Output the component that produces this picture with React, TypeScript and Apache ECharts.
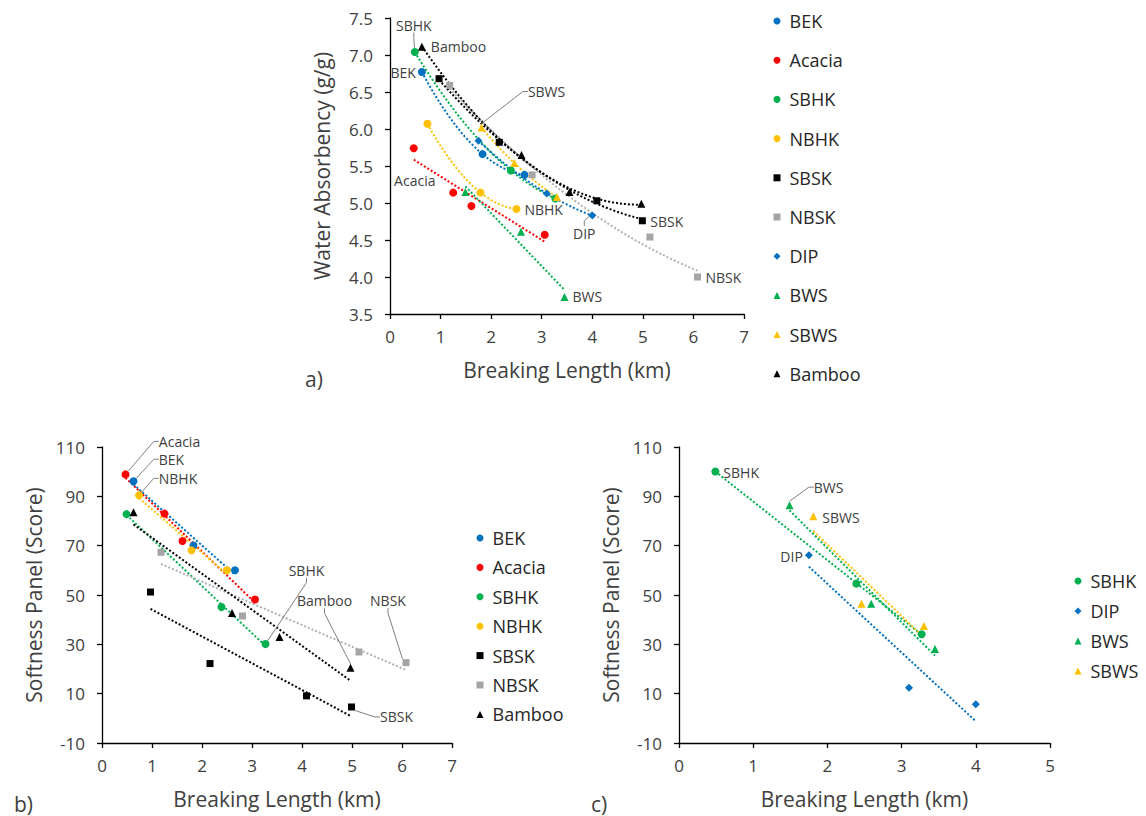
import React, { useEffect, useRef } from "react";
import * as echarts from "echarts";

const FONT = '"Open Sans", "Noto Sans", "DejaVu Sans", sans-serif';
const AXIS_TEXT = "#404040";
const LEGEND_TEXT = "#262626";

// ---- breaking length (km) of each material ----
const bekLen = [0.63, 1.83, 2.66];
const acaciaLen = [0.47, 1.25, 1.61, 3.06];
const sbhkLen = [0.49, 2.39, 3.27];
const nbhkLen = [0.74, 1.79, 2.5];
const sbskLen = [0.97, 2.16, 4.09, 4.99];
const nbskLen = [1.18, 2.81, 5.14, 6.08];
const dipLen = [1.75, 3.1, 4.0];
const bwsLen = [1.49, 2.59, 3.45];
const sbwsLen = [1.81, 2.46, 3.3];
const bambooLen = [0.63, 2.6, 3.55, 4.97];

// ---- a) water absorbency (g/g) ----
const bekWA = [6.77, 5.66, 5.38];
const acaciaWA = [5.74, 5.14, 4.96, 4.57];
const sbhkWA = [7.04, 5.44, 5.06];
const nbhkWA = [6.07, 5.14, 4.92];
const sbskWA = [6.68, 5.82, 5.03, 4.76];
const nbskWA = [6.59, 5.38, 4.54, 4.0];
const dipWA = [5.84, 5.13, 4.83];
const bwsWA = [5.15, 4.61, 3.73];
const sbwsWA = [6.02, 5.54, 5.08];
const bambooWA = [7.11, 5.65, 5.15, 4.99];

// ---- b) softness panel (score) ----
const bekSoftB = [96.1, 70.1, 60.0];
const acaciaSoftB = [98.9, 83.0, 71.9, 48.2];
const sbhkSoftB = [82.8, 45.1, 30.1];
const nbhkSoftB = [90.4, 68.1, 60.0];
const sbskSoftB = [51.2, 22.2, 9.1, 4.6];
const nbskSoftB = [67.3, 41.5, 26.9, 22.6];
const bambooSoftB = [83.5, 42.7, 33.0, 20.5];

// ---- c) softness panel (score) ----
const sbhkSoftC = [100.1, 54.6, 34.1];
const dipSoftC = [66.1, 12.4, 5.7];
const bwsSoftC = [86.4, 46.5, 28.1];
const sbwsSoftC = [81.9, 46.5, 37.4];

// ---- tick labels ----
const absTicks = [3.5, 4.0, 4.5, 5.0, 5.5, 6.0, 6.5, 7.0, 7.5];
const softTicks = [-10, 10, 30, 50, 70, 90, 110];
const lenTicksAB = [0, 1, 2, 3, 4, 5, 6, 7];
const lenTicksC = [0, 1, 2, 3, 4, 5];

const legendA = ["BEK", "Acacia", "SBHK", "NBHK", "SBSK", "NBSK", "DIP", "BWS", "SBWS", "Bamboo"];
const legendB = ["BEK", "Acacia", "SBHK", "NBHK", "SBSK", "NBSK", "Bamboo"];
const legendC = ["SBHK", "DIP", "BWS", "SBWS"];

const MATS: Record<string, { color: string; trend: string; symbol: string; size: number }> = {
  BEK: { color: "#0070C0", trend: "#0070C0", symbol: "circle", size: 8 },
  Acacia: { color: "#FF0000", trend: "#FF0000", symbol: "circle", size: 8 },
  SBHK: { color: "#00B050", trend: "#00B050", symbol: "circle", size: 8 },
  NBHK: { color: "#FFC000", trend: "#FFC000", symbol: "circle", size: 8 },
  SBSK: { color: "#000000", trend: "#000000", symbol: "rect", size: 7 },
  NBSK: { color: "#A5A5A5", trend: "#B0B0B0", symbol: "rect", size: 7 },
  DIP: { color: "#0070C0", trend: "#0070C0", symbol: "diamond", size: 8 },
  BWS: { color: "#00B050", trend: "#00B050", symbol: "triangle", size: 8 },
  SBWS: { color: "#FFC000", trend: "#FFC000", symbol: "triangle", size: 8 },
  Bamboo: { color: "#000000", trend: "#000000", symbol: "triangle", size: 8 },
};

type Spec = { mat: string; x: number[]; y: number[]; fit: number };
type Ann = { mat: string; i: number; text: string; dx: number; dy: number; align: string; line?: boolean };

const panels: { specs: Spec[]; labels: Ann[] }[] = [
  {
    specs: [
      { mat: "BEK", x: bekLen, y: bekWA, fit: 2 },
      { mat: "Acacia", x: acaciaLen, y: acaciaWA, fit: 1 },
      { mat: "SBHK", x: sbhkLen, y: sbhkWA, fit: 2 },
      { mat: "NBHK", x: nbhkLen, y: nbhkWA, fit: 2 },
      { mat: "SBSK", x: sbskLen, y: sbskWA, fit: 2 },
      { mat: "NBSK", x: nbskLen, y: nbskWA, fit: 2 },
      { mat: "DIP", x: dipLen, y: dipWA, fit: 2 },
      { mat: "BWS", x: bwsLen, y: bwsWA, fit: 1 },
      { mat: "SBWS", x: sbwsLen, y: sbwsWA, fit: 2 },
      { mat: "Bamboo", x: bambooLen, y: bambooWA, fit: 2 },
    ],
    labels: [
      { mat: "SBHK", i: 0, text: "SBHK", dx: -1, dy: -27, align: "center", line: true },
      { mat: "Bamboo", i: 0, text: "Bamboo", dx: 9, dy: 0, align: "left" },
      { mat: "BEK", i: 0, text: "BEK", dx: -6, dy: 0, align: "right" },
      { mat: "SBWS", i: 0, text: "SBWS", dx: 65, dy: -36, align: "center", line: true },
      { mat: "Acacia", i: 0, text: "Acacia", dx: 1, dy: 32, align: "center" },
      { mat: "NBHK", i: 2, text: "NBHK", dx: 8, dy: 1, align: "left" },
      { mat: "DIP", i: 2, text: "DIP", dx: -8, dy: 18, align: "center", line: true },
      { mat: "SBSK", i: 3, text: "SBSK", dx: 8, dy: 1, align: "left" },
      { mat: "NBSK", i: 3, text: "NBSK", dx: 8, dy: 0, align: "left" },
      { mat: "BWS", i: 2, text: "BWS", dx: 8, dy: 0, align: "left" },
    ],
  },
  {
    specs: [
      { mat: "BEK", x: bekLen, y: bekSoftB, fit: 1 },
      { mat: "Acacia", x: acaciaLen, y: acaciaSoftB, fit: 1 },
      { mat: "SBHK", x: sbhkLen, y: sbhkSoftB, fit: 1 },
      { mat: "NBHK", x: nbhkLen, y: nbhkSoftB, fit: 1 },
      { mat: "SBSK", x: sbskLen, y: sbskSoftB, fit: 1 },
      { mat: "NBSK", x: nbskLen, y: nbskSoftB, fit: 1 },
      { mat: "Bamboo", x: bambooLen, y: bambooSoftB, fit: 1 },
    ],
    labels: [
      { mat: "Acacia", i: 0, text: "Acacia", dx: 54, dy: -33, align: "center", line: true },
      { mat: "BEK", i: 0, text: "BEK", dx: 38, dy: -22, align: "center", line: true },
      { mat: "NBHK", i: 0, text: "NBHK", dx: 39, dy: -17, align: "center", line: true },
      { mat: "SBHK", i: 2, text: "SBHK", dx: 41, dy: -74, align: "center", line: true },
      { mat: "Bamboo", i: 3, text: "Bamboo", dx: -26, dy: -67, align: "center", line: true },
      { mat: "NBSK", i: 3, text: "NBSK", dx: -18, dy: -62, align: "center", line: true },
      { mat: "SBSK", i: 3, text: "SBSK", dx: 45, dy: 10, align: "center", line: true },
    ],
  },
  {
    specs: [
      { mat: "SBHK", x: sbhkLen, y: sbhkSoftC, fit: 1 },
      { mat: "DIP", x: dipLen, y: dipSoftC, fit: 1 },
      { mat: "BWS", x: bwsLen, y: bwsSoftC, fit: 1 },
      { mat: "SBWS", x: sbwsLen, y: sbwsSoftC, fit: 1 },
    ],
    labels: [
      { mat: "SBHK", i: 0, text: "SBHK", dx: 8, dy: 1, align: "left" },
      { mat: "BWS", i: 0, text: "BWS", dx: 39, dy: -18, align: "center", line: true },
      { mat: "SBWS", i: 0, text: "SBWS", dx: 9, dy: 1, align: "left" },
      { mat: "DIP", i: 0, text: "DIP", dx: -6, dy: 1, align: "right" },
    ],
  },
];

// least-squares polynomial fit (Excel-style trendline)
function fitPoly(xs: number[], ys: number[], deg: number): number[] {
  const n = deg + 1;
  const A: number[][] = Array.from({ length: n }, () => new Array(n + 1).fill(0));
  for (let k = 0; k < xs.length; k++) {
    for (let i = 0; i < n; i++) {
      for (let j = 0; j < n; j++) A[i][j] += Math.pow(xs[k], i + j);
      A[i][n] += ys[k] * Math.pow(xs[k], i);
    }
  }
  for (let c = 0; c < n; c++) {
    let p = c;
    for (let r = c + 1; r < n; r++) if (Math.abs(A[r][c]) > Math.abs(A[p][c])) p = r;
    [A[c], A[p]] = [A[p], A[c]];
    for (let r = 0; r < n; r++) {
      if (r === c) continue;
      const f = A[r][c] / A[c][c];
      for (let k = c; k <= n; k++) A[r][k] -= f * A[c][k];
    }
  }
  return A.map((row, i) => row[n] / row[i]);
}
const evalPoly = (c: number[], x: number) => c.reduce((s, a, i) => s + a * Math.pow(x, i), 0);

function buildSeries() {
  const series: any[] = [];
  panels.forEach((p, pi) => {
    p.specs.forEach((s) => {
      const m = MATS[s.mat];
      const coeffs = fitPoly(s.x, s.y, s.fit);
      const lo = Math.min(...s.x);
      const hi = Math.max(...s.x);
      const steps = 60;
      const trend: number[][] = [];
      for (let k = 0; k <= steps; k++) {
        const xv = lo + ((hi - lo) * k) / steps;
        trend.push([xv, evalPoly(coeffs, xv)]);
      }
      series.push({
        type: "line",
        name: `${s.mat} trend ${pi}`,
        xAxisIndex: pi,
        yAxisIndex: pi,
        data: trend,
        showSymbol: false,
        symbol: "none",
        silent: true,
        z: 1,
        lineStyle: { color: m.trend, width: 2, type: [2, 2] },
      });
    });
    p.specs.forEach((s) => {
      const m = MATS[s.mat];
      const anns = p.labels.filter((a) => a.mat === s.mat);
      const data = s.x.map((xv, i) => {
        const a = anns.find((q) => q.i === i);
        const item: any = { value: [xv, s.y[i]] };
        if (a) {
          item.label = { show: true, formatter: a.text };
          item.labelLine = { show: !!a.line };
        }
        return item;
      });
      series.push({
        type: "scatter",
        name: s.mat,
        xAxisIndex: pi,
        yAxisIndex: pi,
        data,
        symbol: m.symbol,
        symbolSize: m.size,
        itemStyle: { color: m.color, opacity: 1 },
        z: 3,
        label: { show: false, fontSize: 14, lineHeight: 15, fontFamily: FONT, color: AXIS_TEXT },
        labelLine: { show: false, length2: 5, lineStyle: { color: "#808080", width: 1 } },
        labelLayout: (params: any) => {
          const a = anns.find((q) => q.i === params.dataIndex);
          if (!a) return {};
          const cx = params.rect.x + params.rect.width / 2;
          const cy = params.rect.y + params.rect.height / 2;
          return { x: cx + a.dx, y: cy + a.dy, align: a.align, verticalAlign: "middle" };
        },
        emphasis: { disabled: true },
      });
    });
  });
  return series;
}

const axisLine = { show: true, onZero: false, lineStyle: { color: "#000", width: 1.3 } };
const axisTick = { show: true, length: 5, lineStyle: { color: "#000", width: 1.3 } };
const labelStyle = { fontSize: 17, fontFamily: FONT, color: AXIS_TEXT };
const nameStyle = { fontSize: 21, fontFamily: FONT, color: AXIS_TEXT };

function xAxis(gridIndex: number, ticks: number[]) {
  return {
    type: "value",
    gridIndex,
    min: ticks[0],
    max: ticks[ticks.length - 1],
    interval: 1,
    name: "Breaking Length (km)",
    nameLocation: "middle",
    nameGap: 45,
    nameTextStyle: nameStyle,
    axisLine,
    axisTick,
    axisLabel: { ...labelStyle, margin: 14 },
    splitLine: { show: false },
  };
}

function legend(names: string[], markerCenterX: number, firstCenterY: number, step: number) {
  const size = 7;
  const lineH = 20;
  return {
    data: names.map((n) => ({ name: n, icon: MATS[n].symbol })),
    orient: "vertical",
    left: markerCenterX - size / 2,
    top: firstCenterY - lineH / 2,
    padding: 0,
    itemWidth: size,
    itemHeight: size,
    itemGap: step - lineH,
    selectedMode: false,
    textStyle: {
      fontSize: 18,
      fontFamily: FONT,
      color: LEGEND_TEXT,
      lineHeight: lineH,
      padding: [0, 0, 0, 4],
    },
  };
}

export default function App() {
  const ref = useRef<HTMLDivElement>(null);
  useEffect(() => {
    if (!ref.current) return;
    const chart = echarts.init(ref.current, undefined, { renderer: "svg" });
    const option: any = {
      animation: false,
      backgroundColor: "#ffffff",
      textStyle: { fontFamily: FONT },
      grid: [
        { left: 390, top: 18, width: 354, height: 296 },
        { left: 102, top: 447, width: 350, height: 296 },
        { left: 679, top: 447, width: 371, height: 296 },
      ],
      xAxis: [xAxis(0, lenTicksAB), xAxis(1, lenTicksAB), xAxis(2, lenTicksC)],
      yAxis: [
        {
          type: "value",
          gridIndex: 0,
          min: absTicks[0],
          max: absTicks[absTicks.length - 1],
          interval: 0.5,
          name: "Water Absorbency (g/g)",
          nameLocation: "middle",
          nameGap: 58,
          nameTextStyle: nameStyle,
          axisLine,
          axisTick,
          axisLabel: { ...labelStyle, margin: 17, formatter: (v: number) => v.toFixed(1) },
          splitLine: { show: false },
        },
        ...[1, 2].map((gi) => ({
          type: "value",
          gridIndex: gi,
          min: softTicks[0],
          max: softTicks[softTicks.length - 1],
          name: "Softness Panel (Score)",
          nameLocation: "middle",
          nameGap: 58,
          nameTextStyle: nameStyle,
          axisLine,
          axisTick: { ...axisTick, customValues: softTicks },
          axisLabel: { ...labelStyle, margin: 17, customValues: softTicks },
          splitLine: { show: false },
        })),
      ],
      legend: [legend(legendA, 777, 21, 39.2), legend(legendB, 480, 538, 29.4), legend(legendC, 1078, 581, 30)],
      graphic: [
        { type: "text", left: 305, top: 368, style: { text: "a)", fontSize: 21, fontFamily: FONT, fill: AXIS_TEXT } },
        { type: "text", left: 14, top: 793, style: { text: "b)", fontSize: 21, fontFamily: FONT, fill: AXIS_TEXT } },
        { type: "text", left: 591, top: 793, style: { text: "c)", fontSize: 21, fontFamily: FONT, fill: AXIS_TEXT } },
      ],
      series: buildSeries(),
    };
    chart.setOption(option);
    return () => chart.dispose();
  }, []);
  return (
    <div
      ref={ref}
      style={{ position: "fixed", left: 0, top: 0, width: 1146, height: 816, background: "#fff" }}
    />
  );
}
